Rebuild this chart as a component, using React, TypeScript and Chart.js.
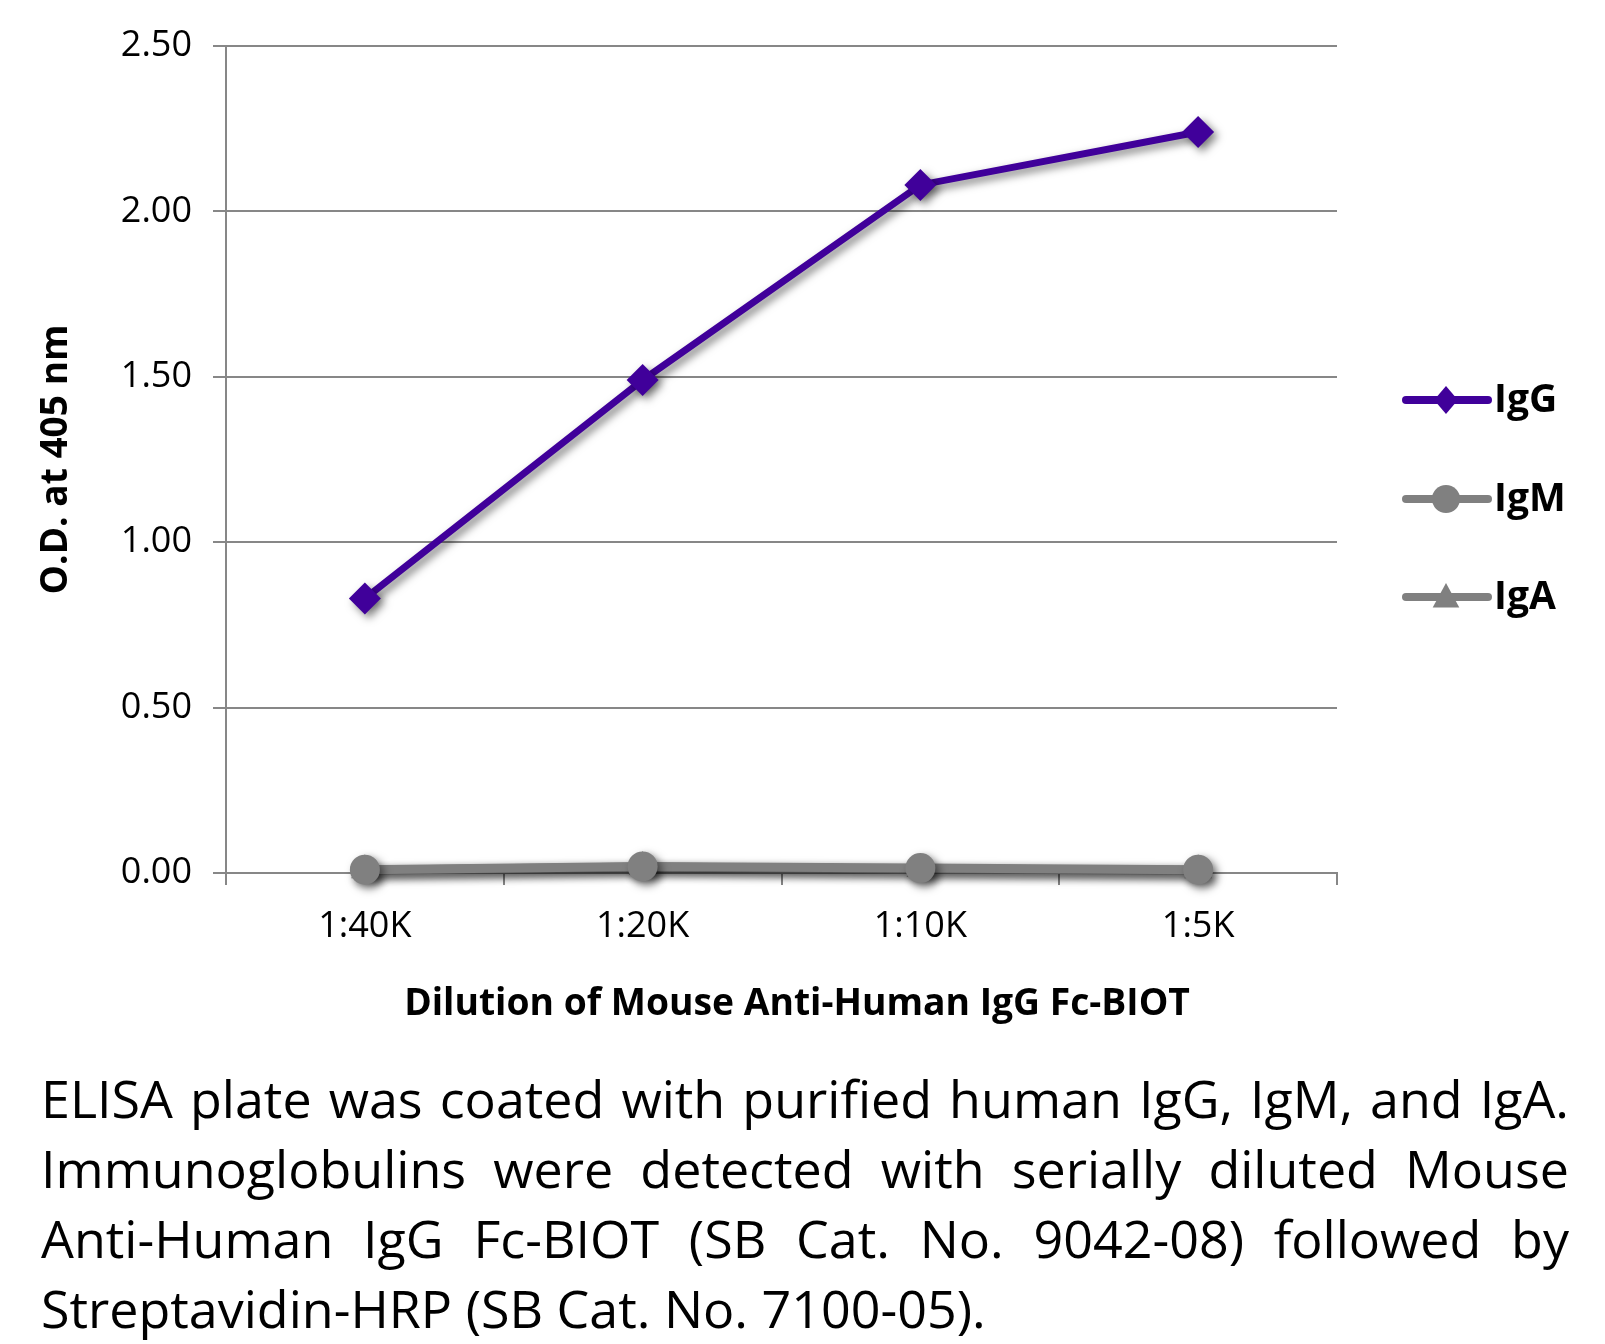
import React, { useEffect, useRef } from "react";
import { Chart, registerables } from "chart.js";

Chart.register(...registerables);

const categories = ["1:40K", "1:20K", "1:10K", "1:5K"];
const igG = [0.83, 1.49, 2.08, 2.24];
const igM = [0.01, 0.02, 0.015, 0.01];
const igA = [0.008, 0.018, 0.012, 0.008];
const yTickValues = [0, 0.5, 1, 1.5, 2, 2.5];
const seriesNames = ["IgG", "IgM", "IgA"];
const seriesColors = ["#40009a", "#808080", "#808080"];
const seriesMarkers = ["rectRot", "circle", "triangle"];
const xTitle = "Dilution of Mouse Anti-Human IgG Fc-BIOT";
const yTitle = "O.D. at 405 nm";
const captionLines = [
  "ELISA plate was coated with purified human IgG, IgM, and IgA.",
  "Immunoglobulins were detected with serially diluted Mouse",
  "Anti-Human IgG Fc-BIOT (SB Cat. No. 9042-08) followed by",
  "Streptavidin-HRP (SB Cat. No. 7100-05).",
];

const CW = 1589;
const CH = 1030;
const GRID = "#878787";
const FONT = "'Open Sans', 'Noto Sans', sans-serif";

function drawMarker(ctx: CanvasRenderingContext2D, style: string, x: number, y: number, r: number, color: string) {
  ctx.save();
  ctx.fillStyle = color;
  ctx.beginPath();
  if (style === "rectRot") {
    ctx.moveTo(x, y - r);
    ctx.lineTo(x + r * 0.85, y);
    ctx.lineTo(x, y + r);
    ctx.lineTo(x - r * 0.85, y);
    ctx.closePath();
  } else if (style === "circle") {
    ctx.arc(x, y, r, 0, Math.PI * 2);
  } else {
    ctx.moveTo(x, y - r);
    ctx.lineTo(x + r * 0.95, y + r * 0.75);
    ctx.lineTo(x - r * 0.95, y + r * 0.75);
    ctx.closePath();
  }
  ctx.fill();
  ctx.restore();
}

const shadowPlugin = {
  id: "shadowPlugin",
  beforeDatasetDraw(chart: any) {
    const ctx = chart.ctx;
    ctx.save();
    ctx.shadowColor = "rgba(0,0,0,0.5)";
    ctx.shadowBlur = 8;
    ctx.shadowOffsetX = 4;
    ctx.shadowOffsetY = 4;
  },
  afterDatasetDraw(chart: any) {
    chart.ctx.restore();
  },
};

function fitFont(ctx: CanvasRenderingContext2D, text: string, width: number, weight: string) {
  ctx.font = `${weight} 100px ${FONT}`;
  const w = ctx.measureText(text).width;
  return (100 * width) / w;
}

const decorPlugin = {
  id: "decorPlugin",
  afterDraw(chart: any) {
    const ctx: CanvasRenderingContext2D = chart.ctx;
    const area = chart.chartArea;
    ctx.save();
    ctx.fillStyle = "#000";
    ctx.textAlign = "center";
    ctx.textBaseline = "middle";
    const xs = fitFont(ctx, xTitle, 786, "bold");
    ctx.font = `bold ${xs}px ${FONT}`;
    ctx.fillText(xTitle, 789, 996);
    const ys = fitFont(ctx, yTitle, 270, "bold");
    ctx.font = `bold ${ys}px ${FONT}`;
    ctx.translate(48, (area.top + area.bottom) / 2);
    ctx.rotate(-Math.PI / 2);
    ctx.fillText(yTitle, 0, 0);
    ctx.restore();

    const legendY = [392, 491, 589];
    const sizes = [14, 14, 14];
    for (let i = 0; i < seriesNames.length; i++) {
      const y = legendY[i];
      ctx.save();
      ctx.strokeStyle = seriesColors[i];
      ctx.lineWidth = 8;
      ctx.lineCap = "round";
      ctx.beginPath();
      ctx.moveTo(1398, y);
      ctx.lineTo(1480, y);
      ctx.stroke();
      ctx.restore();
      drawMarker(ctx, seriesMarkers[i], 1438, y, sizes[i], seriesColors[i]);
      ctx.save();
      ctx.fillStyle = "#000";
      ctx.font = `bold 39px ${FONT}`;
      ctx.textAlign = "left";
      ctx.textBaseline = "middle";
      ctx.fillText(seriesNames[i], 1486, y + 1);
      ctx.restore();
    }
  },
};

export default function App() {
  const ref = useRef<HTMLCanvasElement | null>(null);

  useEffect(() => {
    if (!ref.current) return;
    const mk = (i: number, data: number[], radius: number, width: number) => ({
      label: seriesNames[i],
      data,
      borderColor: seriesColors[i],
      backgroundColor: seriesColors[i],
      borderWidth: width,
      pointStyle: seriesMarkers[i] as any,
      pointRadius: radius,
      pointBackgroundColor: seriesColors[i],
      pointBorderColor: seriesColors[i],
      pointBorderWidth: 0,
      tension: 0,
      clip: false as any,
    });
    const chart = new Chart(ref.current, {
      type: "line",
      data: {
        labels: categories,
        datasets: [mk(0, igG, 16, 7), mk(1, igM, 15, 9), mk(2, igA, 16, 9)],
      },
      options: {
        responsive: false,
        animation: false,
        devicePixelRatio: 1,
        layout: { padding: { left: 0, right: 260, top: 38, bottom: 0 } },
        plugins: { legend: { display: false }, tooltip: { enabled: false } },
        scales: {
          x: {
            type: "category",
            offset: true,
            grid: {
              offset: true,
              drawOnChartArea: false,
              drawTicks: true,
              tickLength: 12,
              color: GRID,
              lineWidth: 2,
            },
            border: { display: true, color: GRID, width: 2 },
            ticks: {
              color: "#000",
              font: { family: FONT, size: 36 },
              padding: 20,
              maxRotation: 0,
              autoSkip: false,
            },
            afterFit: (s: any) => {
              s.height = CH - 865;
              s.paddingLeft = 0;
              s.paddingRight = 0;
            },
          },
          y: {
            type: "linear",
            min: 0,
            max: 2.5,
            afterBuildTicks: (s: any) => {
              s.ticks = yTickValues.map((v) => ({ value: v }));
            },
            grid: {
              drawTicks: true,
              tickLength: 13,
              color: GRID,
              lineWidth: 2,
            },
            border: { display: true, color: GRID, width: 2 },
            ticks: {
              color: "#000",
              font: { family: FONT, size: 36 },
              padding: 21,
              callback: (v: any) => Number(v).toFixed(2),
            },
            afterFit: (s: any) => {
              s.width = 218;
              s.paddingTop = 0;
              s.paddingBottom = 0;
            },
          },
        },
      },
      plugins: [shadowPlugin, decorPlugin],
    });
    return () => chart.destroy();
  }, []);

  return (
    <div style={{ background: "#fff" }}>
      <canvas ref={ref} width={CW} height={CH} style={{ display: "block", width: CW, height: CH }} />
      <div
        style={{
          marginLeft: 33,
          marginTop: 25,
          width: 1528,
          fontFamily: FONT,
          fontSize: 52,
          lineHeight: "70px",
          color: "#000",
        }}
      >
        {captionLines.map((t, i) => (
          <div
            key={i}
            style={{
              whiteSpace: "nowrap",
              textAlign: i < captionLines.length - 1 ? "justify" : "left",
              textAlignLast: i < captionLines.length - 1 ? "justify" : "left",
            }}
          >
            {t}
          </div>
        ))}
      </div>
    </div>
  );
}
